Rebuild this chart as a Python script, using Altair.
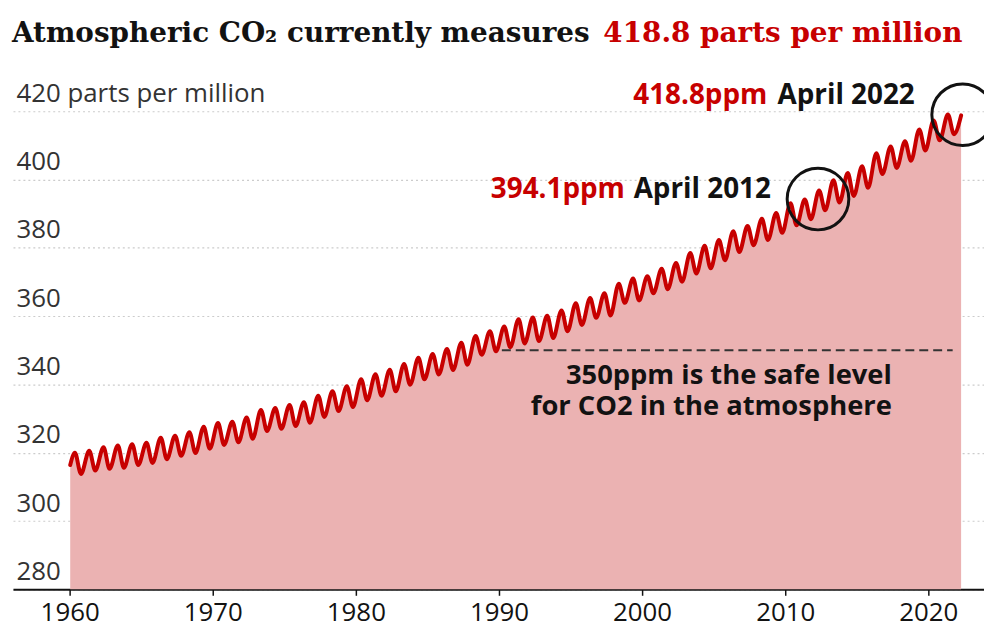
import altair as alt
import pandas as pd

# ---- data (Mauna Loa CO2, ppm) ----
years = list(range(1960, 2022))
# seasonal maximum (around May) of each year
peaks = [320.0, 320.6, 321.6, 322.1, 322.5, 322.9, 324.4, 325.0, 326.0, 327.6,
         328.7, 329.1, 330.3, 332.5, 333.1, 334.0, 334.8, 336.7, 338.0, 339.5,
         341.5, 343.0, 344.3, 346.0, 347.8, 348.9, 350.4, 352.2, 354.2, 355.6,
         357.0, 359.1, 359.6, 360.1, 361.7, 363.8, 365.3, 366.7, 369.5, 371.0,
         371.7, 373.9, 375.6, 378.5, 380.6, 382.3, 384.9, 386.4, 388.5, 390.2,
         393.1, 394.2, 396.8, 399.8, 401.9, 403.9, 407.7, 409.7, 411.2, 414.7,
         417.3, 419.1]
# seasonal minimum (around October) of each year
troughs = [313.8, 314.8, 315.3, 315.6, 316.4, 317.0, 318.1, 319.1, 319.9, 321.2,
           322.3, 323.1, 324.1, 326.4, 327.0, 327.8, 328.8, 330.5, 332.2, 333.4,
           335.4, 336.7, 338.0, 339.9, 341.5, 342.9, 344.2, 345.8, 348.7, 349.7,
           350.9, 352.0, 352.7, 353.6, 355.6, 357.4, 359.5, 360.2, 363.9, 364.6,
           366.7, 367.9, 370.1, 372.5, 374.0, 376.4, 378.8, 380.8, 382.3, 384.4,
           386.6, 388.4, 391.0, 393.3, 395.2, 397.6, 401.6, 403.4, 405.5, 408.5,
           411.5, 413.3]
first_t, first_v = 1960.04, 316.4   # January 1960
last_t, last_v = 2022.29, 418.8     # April 2022

rows = [(first_t, first_v)]
for y, p, t in zip(years, peaks, troughs):
    rows.append((y + 0.37, p))
    rows.append((y + 0.79, t))
rows.append((last_t, last_v))
df = pd.DataFrame(rows, columns=["t", "ppm"])

circles = pd.DataFrame({"t": [2012.29, 2022.4], "ppm": [394.3, 419.0]})

ann_red = pd.DataFrame({"t": [2008.75, 1998.80], "ppm": [422.0, 394.7],
                        "label": ["418.8ppm", "394.1ppm"]})
ann_blk = pd.DataFrame({"t": [2019.05, 2009.00], "ppm": [422.0, 394.7],
                        "label": ["April 2022", "April 2012"]})
safe = pd.DataFrame({"t": [2017.45, 2017.45], "ppm": [340.0, 331.2],
                     "label": ["350ppm is the safe level", "for CO2 in the atmosphere"]})
safe_line = pd.DataFrame({"t": [1990.2], "t2": [2021.7], "ppm": [350]})

RED = "#c70000"
INK = "#121212"
SANS = "Open Sans"
SERIF = "DejaVu Serif"

xs = alt.Scale(domain=[1956.04, 2023.89], nice=False, zero=False)
ys = alt.Scale(domain=[280, 430.2], nice=False, zero=False)

x_axis = alt.Axis(values=[1960, 1970, 1980, 1990, 2000, 2010, 2020], format="d",
                  grid=False, domainColor=INK, domainWidth=2,
                  tickColor=INK, tickSize=6, tickWidth=1.5,
                  labelFont=SANS, labelFontSize=26, labelColor=INK,
                  labelPadding=4, title=None)
y_axis = alt.Axis(values=[280, 300, 320, 340, 360, 380, 400, 420], domain=False,
                  ticks=False, tickSize=0, labelAlign="left", labelBaseline="bottom",
                  labelPadding=-3, labelOffset=-5, labelFont=SANS, labelFontSize=26,
                  labelColor="#333333", labelLimit=0,
                  labelExpr="datum.value == 420 ? '420 parts per million' : datum.label",
                  gridColor="#cccccc", gridDash=[2, 3], gridWidth=1.2, title=None)

base = alt.Chart(df)
area = base.mark_area(color="#ebb2b2", interpolate="monotone").encode(
    x=alt.X("t:Q", scale=xs, axis=x_axis),
    y=alt.Y("ppm:Q", scale=ys, axis=y_axis),
    y2=alt.datum(280),
)
line = base.mark_line(color=RED, strokeWidth=4, interpolate="monotone",
                      strokeJoin="round", strokeCap="round").encode(
    x=alt.X("t:Q", scale=xs), y=alt.Y("ppm:Q", scale=ys))

dash = alt.Chart(safe_line).mark_rule(color="#333333", strokeWidth=2,
                                      strokeDash=[9, 5]).encode(
    x=alt.X("t:Q", scale=xs), x2="t2:Q", y=alt.Y("ppm:Q", scale=ys))

safe_txt = alt.Chart(safe).mark_text(font=SANS, fontSize=27.5, fontWeight="bold",
                                     color=INK, align="right",
                                     baseline="alphabetic").encode(
    x=alt.X("t:Q", scale=xs), y=alt.Y("ppm:Q", scale=ys), text="label:N")

circ = alt.Chart(circles).mark_point(shape="circle", filled=False, size=3848,
                                     color=INK, strokeWidth=3, opacity=1).encode(
    x=alt.X("t:Q", scale=xs), y=alt.Y("ppm:Q", scale=ys))

red_txt = alt.Chart(ann_red).mark_text(font=SANS, fontSize=28, fontWeight="bold",
                                       color=RED, align="right",
                                       baseline="alphabetic").encode(
    x=alt.X("t:Q", scale=xs), y=alt.Y("ppm:Q", scale=ys), text="label:N")
blk_txt = alt.Chart(ann_blk).mark_text(font=SANS, fontSize=28, fontWeight="bold",
                                       color=INK, align="right",
                                       baseline="alphabetic").encode(
    x=alt.X("t:Q", scale=xs), y=alt.Y("ppm:Q", scale=ys), text="label:N")

title_df = pd.DataFrame({"label": ["Atmospheric CO\u2082 currently measures"]})
title_red_df = pd.DataFrame({"label": ["418.8 parts per million"]})
title1 = alt.Chart(title_df).mark_text(font=SERIF, fontSize=28,
                                       fontWeight="bold", color=INK,
                                       align="left", baseline="alphabetic").encode(
    x=alt.value(-1), y=alt.value(-35), text="label:N")
title2 = alt.Chart(title_red_df).mark_text(font=SERIF, fontSize=28,
                                           fontWeight="bold", color=RED,
                                           align="left", baseline="alphabetic").encode(
    x=alt.value(594), y=alt.value(-35), text="label:N")

chart = alt.layer(area, line, dash, safe_txt, circ, red_txt, blk_txt,
                  title1, title2).properties(
    width=977, height=516,
    padding={"left": 5, "top": 67, "right": 0, "bottom": 34},
    autosize=alt.AutoSizeParams(type="none"),
).configure_view(stroke=None)

chart.save("out.html", embed_options={"renderer": "svg", "actions": False})
